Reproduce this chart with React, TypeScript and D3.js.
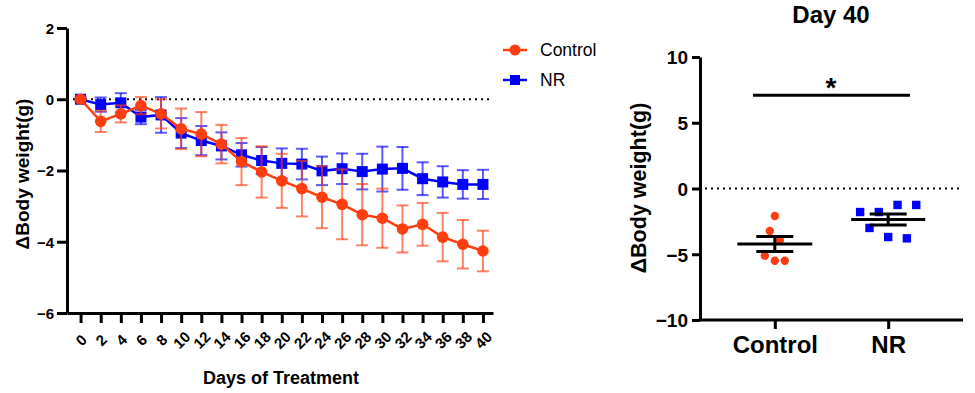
import React, { useEffect, useRef } from 'react';
import * as d3 from 'd3';

// time course (mean ± SEM)
const days = [0, 2, 4, 6, 8, 10, 12, 14, 16, 18, 20, 22, 24, 26, 28, 30, 32, 34, 36, 38, 40];
const controlMean = [0, -0.62, -0.41, -0.18, -0.41, -0.83, -0.98, -1.26, -1.75, -2.04, -2.29, -2.51, -2.75, -2.95, -3.24, -3.34, -3.64, -3.51, -3.87, -4.07, -4.26];
const controlSem = [0.02, 0.3, 0.24, 0.24, 0.41, 0.57, 0.62, 0.54, 0.66, 0.72, 0.76, 0.78, 0.87, 0.98, 0.86, 0.83, 0.66, 0.6, 0.68, 0.68, 0.57];
const nrMean = [0, -0.15, -0.1, -0.5, -0.44, -0.95, -1.16, -1.31, -1.56, -1.72, -1.8, -1.82, -2.01, -1.95, -2.03, -1.96, -1.94, -2.23, -2.32, -2.39, -2.39];
const nrSem = [0.05, 0.2, 0.27, 0.2, 0.5, 0.42, 0.41, 0.38, 0.33, 0.38, 0.42, 0.43, 0.4, 0.43, 0.5, 0.63, 0.6, 0.46, 0.44, 0.4, 0.41];

const leftYTicks = [2, 0, -2, -4, -6];
const rightYTicks = [10, 5, 0, -5, -10];

// day 40 individual animals
const groups = ['Control', 'NR'];
const controlDay40 = [-2.09, -3.23, -3.94, -5.11, -5.49, -5.49];
const nrDay40 = [-1.79, -1.79, -1.25, -1.25, -3.0, -3.69, -3.79];
const sigY = 7.1;

const RED = '#ff3d0f';
const BLUE = '#0000ff';
const FONT = 'Arial, "Liberation Sans", Helvetica, sans-serif';

// simple GraphPad-like row layout for scatter points
function swarm(values: number[], y: d3.ScaleLinear<number, number>, rowPx: number, spacing: number) {
  const order = values.map((v, i) => i).sort((a, b) => values[b] - values[a]);
  const rows: number[][] = [];
  let start = -Infinity;
  order.forEach(i => {
    const py = y(values[i]);
    if (rows.length === 0 || py - start > rowPx) {
      rows.push([i]);
      start = py;
    } else rows[rows.length - 1].push(i);
  });
  const offsets = new Array(values.length).fill(0);
  rows.forEach(r => {
    const idx = [...r].sort((a, b) => a - b);
    idx.forEach((i, k) => { offsets[i] = (k - (idx.length - 1) / 2) * spacing; });
  });
  return offsets;
}

export default function App() {
  const svgRef = useRef<SVGSVGElement>(null);

  useEffect(() => {
    const svg = d3.select(svgRef.current);
    svg.selectAll('*').remove();

    // ---------------- left panel ----------------
    const x = d3.scaleLinear().domain([-1.35, 41]).range([67, 493]);
    const y = d3.scaleLinear().domain([-6, 2]).range([313, 28]);

    const left = svg.append('g');

    // zero reference
    left.append('line')
      .attr('x1', x(-1.35)).attr('x2', x(41))
      .attr('y1', y(0)).attr('y2', y(0))
      .attr('stroke', '#000').attr('stroke-width', 2)
      .attr('stroke-dasharray', '2,4');

    const yAx = left.append('g')
      .attr('transform', `translate(${x(-1.35)},0)`)
      .call(d3.axisLeft(y).tickValues(leftYTicks).tickSize(10).tickSizeOuter(0).tickFormat(d3.format('d')));
    const xAx = left.append('g')
      .attr('transform', `translate(0,${y(-6)})`)
      .call(d3.axisBottom(x).tickValues(days).tickSize(10).tickSizeOuter(0).tickFormat(d3.format('d')));

    [yAx, xAx].forEach(a => {
      a.select('.domain').attr('stroke', '#000').attr('stroke-width', 3);
      a.selectAll('.tick line').attr('stroke', '#000').attr('stroke-width', 3);
      a.selectAll('text').attr('fill', '#000').attr('font-family', FONT).attr('font-weight', 'bold');
    });
    yAx.selectAll('text').attr('font-size', 15).attr('x', -13).attr('dy', '0.36em');
    xAx.selectAll('text')
      .attr('font-size', 15)
      .attr('text-anchor', 'middle')
      .attr('transform', 'translate(0,27) rotate(-45)')
      .attr('x', 0).attr('y', 0).attr('dy', '0.36em');

    left.append('text')
      .attr('x', 281).attr('y', 384)
      .attr('text-anchor', 'middle')
      .attr('font-family', FONT).attr('font-weight', 'bold').attr('font-size', 18)
      .text('Days of Treatment');

    left.append('text')
      .attr('transform', `translate(29,174) rotate(-90)`)
      .attr('text-anchor', 'middle')
      .attr('font-family', FONT).attr('font-weight', 'bold').attr('font-size', 19)
      .text('ΔBody weight(g)');

    const series = [
      { name: 'NR', mean: nrMean, sem: nrSem, color: BLUE, shape: 'square' },
      { name: 'Control', mean: controlMean, sem: controlSem, color: RED, shape: 'circle' },
    ];

    const line = d3.line<number>().x((d, i) => x(days[i])).y(d => y(d));

    series.forEach(s => {
      const g = left.append('g');
      const eb = g.append('g').attr('stroke', s.color).attr('stroke-opacity', 0.65).attr('stroke-width', 2);
      days.forEach((d, i) => {
        const cx = x(d);
        const hi = y(s.mean[i] + s.sem[i]);
        const lo = y(s.mean[i] - s.sem[i]);
        eb.append('line').attr('x1', cx).attr('x2', cx).attr('y1', hi).attr('y2', lo);
        eb.append('line').attr('x1', cx - 6).attr('x2', cx + 6).attr('y1', hi).attr('y2', hi);
        eb.append('line').attr('x1', cx - 6).attr('x2', cx + 6).attr('y1', lo).attr('y2', lo);
      });
      g.append('path')
        .attr('d', line(s.mean))
        .attr('fill', 'none').attr('stroke', s.color).attr('stroke-width', 2.5);
      s.mean.forEach((v, i) => {
        if (s.shape === 'circle') {
          g.append('circle').attr('cx', x(days[i])).attr('cy', y(v)).attr('r', 5.8).attr('fill', s.color);
        } else {
          g.append('rect').attr('x', x(days[i]) - 5.5).attr('y', y(v) - 5.5).attr('width', 11).attr('height', 11).attr('fill', s.color);
        }
      });
    });

    // legend
    const legend = svg.append('g').attr('font-family', FONT).attr('font-size', 17.5);
    [series[1], series[0]].forEach((s, i) => {
      const ly = 50 + i * 30;
      legend.append('line').attr('x1', 503).attr('x2', 527).attr('y1', ly).attr('y2', ly)
        .attr('stroke', s.color).attr('stroke-width', 2.5);
      if (s.shape === 'circle') legend.append('circle').attr('cx', 515).attr('cy', ly).attr('r', 5.5).attr('fill', s.color);
      else legend.append('rect').attr('x', 510).attr('y', ly - 5).attr('width', 10).attr('height', 10).attr('fill', s.color);
      legend.append('text').attr('x', 540).attr('y', ly).attr('dy', '0.36em').text(s.name);
    });

    // ---------------- right panel ----------------
    const xr = d3.scalePoint<string>().domain(groups).range([700, 963]).padding(0.66);
    const yr = d3.scaleLinear().domain([-10, 10]).range([320, 57]);
    const right = svg.append('g');

    right.append('text')
      .attr('x', 831).attr('y', 23)
      .attr('text-anchor', 'middle')
      .attr('font-family', FONT).attr('font-weight', 'bold').attr('font-size', 24)
      .text('Day 40');

    right.append('line')
      .attr('x1', 705).attr('x2', 963)
      .attr('y1', yr(0)).attr('y2', yr(0))
      .attr('stroke', '#000').attr('stroke-width', 2)
      .attr('stroke-dasharray', '2,4');

    const yrAx = right.append('g')
      .attr('transform', 'translate(700,0)')
      .call(d3.axisLeft(yr).tickValues(rightYTicks).tickSize(8).tickSizeOuter(0).tickFormat(d3.format('d')));
    const xrAx = right.append('g')
      .attr('transform', `translate(0,${yr(-10)})`)
      .call(d3.axisBottom(xr).tickSize(9).tickSizeOuter(0));
    xrAx.select('.domain').attr('d', `M700,0H963`);

    [yrAx, xrAx].forEach(a => {
      a.select('.domain').attr('stroke', '#000').attr('stroke-width', 3);
      a.selectAll('.tick line').attr('stroke', '#000').attr('stroke-width', 3);
      a.selectAll('text').attr('fill', '#000').attr('font-family', FONT).attr('font-weight', 'bold');
    });
    yrAx.selectAll('text').attr('font-size', 19).attr('x', -12).attr('dy', '0.36em');
    xrAx.selectAll('text').attr('font-size', 24).attr('y', 33).attr('dy', 0);

    right.append('text')
      .attr('transform', `translate(646,188) rotate(-90)`)
      .attr('text-anchor', 'middle')
      .attr('font-family', FONT).attr('font-weight', 'bold').attr('font-size', 21.5)
      .text('ΔBody weight(g)');

    // significance
    right.append('line')
      .attr('x1', 753).attr('x2', 910).attr('y1', yr(sigY)).attr('y2', yr(sigY))
      .attr('stroke', '#000').attr('stroke-width', 3);
    right.append('text')
      .attr('x', 831).attr('y', yr(sigY) + 2)
      .attr('text-anchor', 'middle')
      .attr('font-family', FONT).attr('font-weight', 'bold').attr('font-size', 28)
      .text('*');

    const dots = [
      { name: 'Control', values: controlDay40, color: RED, shape: 'circle', spacing: 10, meanHalf: 37.5, capHalf: 18.5 },
      { name: 'NR', values: nrDay40, color: BLUE, shape: 'square', spacing: 18.7, meanHalf: 37, capHalf: 18.5 },
    ];

    dots.forEach(grp => {
      const cx = xr(grp.name)!;
      const offs = swarm(grp.values, yr, 11, grp.spacing);
      grp.values.forEach((v, i) => {
        if (grp.shape === 'circle') {
          right.append('circle').attr('cx', cx + offs[i]).attr('cy', yr(v)).attr('r', 4.2).attr('fill', grp.color);
        } else {
          right.append('rect').attr('x', cx + offs[i] - 4.2).attr('y', yr(v) - 4.2).attr('width', 8.4).attr('height', 8.4).attr('fill', grp.color);
        }
      });
      const m = d3.mean(grp.values)!;
      const sem = d3.deviation(grp.values)! / Math.sqrt(grp.values.length);
      const s = right.append('g').attr('stroke', '#000').attr('stroke-width', 3);
      s.append('line').attr('x1', cx - grp.meanHalf).attr('x2', cx + grp.meanHalf).attr('y1', yr(m)).attr('y2', yr(m));
      s.append('line').attr('x1', cx - grp.capHalf).attr('x2', cx + grp.capHalf).attr('y1', yr(m + sem)).attr('y2', yr(m + sem));
      s.append('line').attr('x1', cx - grp.capHalf).attr('x2', cx + grp.capHalf).attr('y1', yr(m - sem)).attr('y2', yr(m - sem));
      s.append('line').attr('x1', cx).attr('x2', cx).attr('y1', yr(m + sem)).attr('y2', yr(m - sem));
    });
  }, []);

  return (
    <svg ref={svgRef} width={975} height={393}
      style={{ position: 'absolute', left: 0, top: 0, background: '#fff' }} />
  );
}
